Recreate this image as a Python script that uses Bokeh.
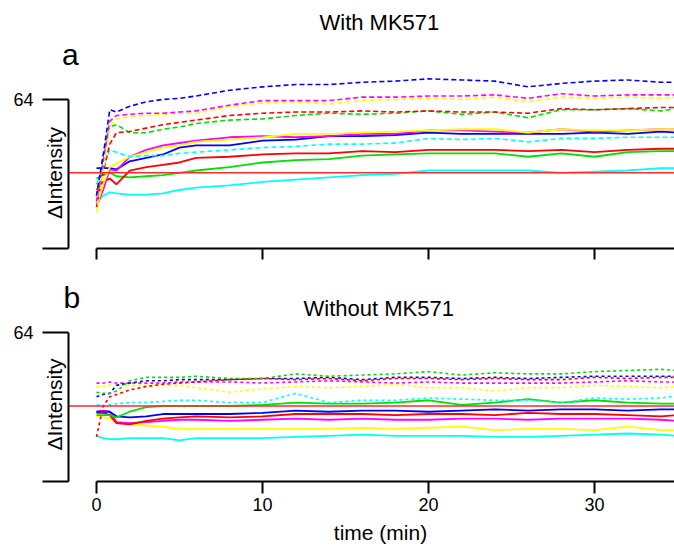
import math
from bokeh.plotting import figure
from bokeh.models import Range1d, FixedTicker, Label, LinearAxis
from bokeh.embed import file_html
from bokeh.resources import INLINE

FONT = "Liberation Sans"

# time (min)
t = [0, 0.4, 0.8, 1.2, 2, 3, 4, 5, 6, 8, 10, 12, 14, 16, 18, 20, 22, 24, 26, 28, 30, 32, 34, 35]

# ---- panel a: With MK571 ----
blue_dash_a    = [-20, 15, 55, 53, 58, 62, 64, 65, 67, 72, 75, 77, 77, 79, 80, 82, 81, 80, 75, 78, 80, 81, 79, 79]
magenta_dash_a = [-25, 10, 45, 50, 51, 52, 52, 53, 54, 59, 63, 63, 63, 66, 66, 67, 67, 68, 65, 69, 67, 68, 68, 68]
yellow_dash_a  = [-35, 0, 40, 47, 49, 50, 51, 52, 52, 58, 61, 62, 60, 63, 64, 65, 64, 66, 62, 66, 65, 66, 65, 66]
red_dash_a     = [-30, 0, 25, 35, 36, 39, 42, 44, 46, 50, 52, 53, 53, 54, 53, 54, 53, 53, 52, 56, 55, 56, 57, 57]
green_dash_a   = [-20, 15, 40, 42, 35, 35, 38, 40, 43, 46, 47, 50, 52, 51, 52, 54, 51, 53, 48, 55, 55, 56, 54, 56]
cyan_dash_a    = [-10, 5, 20, 18, 14, 15, 15, 17, 18, 20, 22, 23, 25, 25, 26, 30, 29, 30, 27, 30, 30, 31, 31, 31]
yellow_a       = [-30, -10, 5, 8, 14, 18, 22, 24, 27, 29, 31, 34, 34, 35, 36, 37, 38, 38, 35, 38, 37, 37, 38, 38]
magenta_a      = [-30, -15, 3, 2, 14, 20, 24, 26, 28, 31, 32, 31, 32, 34, 34, 37, 37, 36, 35, 38, 36, 37, 38, 38]
blue_a         = [4, 4, 4, 3, 10, 13, 16, 22, 24, 24, 28, 29, 32, 32, 33, 35, 34, 34, 34, 34, 35, 34, 36, 35]
red_a          = [-15, -8, -5, -10, 2, 5, 7, 9, 13, 14, 16, 17, 17, 19, 18, 20, 20, 20, 19, 20, 18, 20, 21, 21]
green_a        = [-5, -2, 0, -3, -4, -3, -2, 0, 2, 5, 9, 11, 12, 15, 16, 17, 17, 17, 14, 17, 14, 18, 19, 19]
cyan_a         = [-25, -20, -17, -18, -19, -19, -18, -15, -13, -11, -8, -6, -4, -2, -1, 2, 2, 2, 2, 0, 1, 2, 4, 4]

# ---- panel b: Without MK571 ----
green_dash_b   = [12, 11, 11, 13, 22, 25, 25, 25, 26, 24, 24, 28, 26, 27, 28, 30, 27, 29, 28, 28, 30, 31, 32, 31]
blue_dash_b    = [8, 10, 11, 18, 20, 22, 22, 23, 23, 23, 24, 24, 25, 23, 25, 25, 24, 25, 24, 25, 26, 26, 26, 26]
red_dash_b     = [-27, 0, 8, 10, 14, 17, 19, 20, 21, 23, 24, 23, 24, 22, 24, 24, 23, 24, 23, 23, 25, 24, 25, 25]
magenta_dash_b = [20, 20, 21, 20, 20, 20, 20, 21, 21, 21, 20, 21, 22, 21, 20, 21, 20, 20, 20, 20, 21, 22, 21, 21]
yellow_dash_b  = [17, 17, 18, 18, 18, 18, 18, 18, 16, 12, 15, 17, 16, 17, 19, 16, 16, 13, 16, 16, 18, 17, 16, 17]
cyan_dash_b    = [1, 0, 1, 2, 3, 3, 4, 5, 5, 3, 3, 11, 3, 5, 5, 7, 6, 5, 5, 3, 7, 6, 7, 9]
green_b        = [-8, -8, -8, -10, -5, -1, 0, 0, 0, 0, 1, 3, 2, 2, 3, 5, 1, 3, 6, 3, 5, 3, 2, 2]
blue_b         = [-5, -5, -5, -9, -10, -9, -7, -7, -7, -7, -6, -4, -5, -4, -4, -5, -4, -3, -4, -3, -3, -4, -3, -3]
red_b          = [-6, -6, -8, -15, -16, -13, -11, -10, -9, -10, -9, -7, -7, -7, -8, -7, -7, -8, -6, -7, -7, -8, -9, -8]
magenta_b      = [-5, -4, -5, -14, -15, -14, -13, -12, -12, -13, -12, -11, -12, -11, -12, -12, -11, -11, -12, -11, -11, -11, -12, -13]
yellow_b       = [-9, -10, -11, -14, -16, -17, -18, -20, -20, -20, -20, -20, -20, -19, -20, -19, -18, -21, -20, -20, -21, -18, -21, -21]
cyan_b         = [-26, -28, -29, -29, -28, -28, -28, -30, -28, -28, -28, -27, -26, -25, -26, -26, -26, -27, -27, -26, -25, -24, -25, -26]

x_ticks = [0, 10, 20, 30]
y_top_tick = [64]
y_bottom_tick = [-66]
baseline_level = 0
titles = ["With MK571", "Without MK571"]
panel_letters = ["a", "b"]
y_label = "\u0394Intensity"
x_label = "time (min)"

COL = {"blue": "#0000ff", "magenta": "#ff00ff", "yellow": "#ffff00",
       "red": "#ff0000", "green": "#00e000", "cyan": "#00ffff"}

# ---- geometry (page pixels) ----
W, H = 674, 546
PX_PER_MIN = 16.6
T0_PX = 96
PX_PER_UNIT = 1.146
ZERO_A, ZERO_B = 172.3, 405.5
XS, XE = -T0_PX / PX_PER_MIN, (W - T0_PX) / PX_PER_MIN
YAX_X = (68 - T0_PX) / PX_PER_MIN
BASE_SHIFT = 0.42  # em offset of the rendered baseline


def xd(px):
    return (px - T0_PX) / PX_PER_MIN


p = figure(width=W, height=H, x_range=Range1d(XS, XE), y_range=Range1d(H, 0),
           output_backend="svg", toolbar_location=None, min_border=0,
           x_axis_type=None, y_axis_type=None)
p.outline_line_color = None
p.grid.visible = False
p.extra_y_ranges = {
    "a": Range1d((ZERO_A - H) / PX_PER_UNIT, ZERO_A / PX_PER_UNIT),
    "b": Range1d((ZERO_B - H) / PX_PER_UNIT, ZERO_B / PX_PER_UNIT),
}


def style_axis(ax):
    ax.axis_line_width = 2
    ax.major_tick_line_width = 2
    ax.minor_tick_line_width = 2
    ax.minor_tick_line_color = "black"
    ax.major_tick_in = 0
    ax.minor_tick_in = 0
    ax.major_label_text_font = FONT
    ax.major_label_text_font_size = "18px"
    ax.major_label_text_color = "black"


def panel(name, zero_px, series, dash, show_labels):
    ya = LinearAxis(y_range_name=name, fixed_location=YAX_X,
                    ticker=FixedTicker(ticks=y_top_tick, minor_ticks=y_bottom_tick),
                    bounds=(y_bottom_tick[0], y_top_tick[0]))
    style_axis(ya)
    ya.major_tick_out = 26
    ya.minor_tick_out = 26
    ya.major_label_standoff = 9
    p.add_layout(ya, "left")

    x_loc = zero_px - y_bottom_tick[0] * PX_PER_UNIT
    if show_labels:
        tk = FixedTicker(ticks=x_ticks)
    else:
        tk = FixedTicker(ticks=[], minor_ticks=x_ticks)
    xa = LinearAxis(fixed_location=x_loc, ticker=tk, bounds=(0, XE))
    style_axis(xa)
    xa.major_tick_out = 12
    xa.minor_tick_out = 11
    xa.major_label_standoff = 4
    p.add_layout(xa, "below")

    for col, ys, is_dash in series:
        p.line(t, ys, y_range_name=name, line_color=COL[col],
               line_width=1.6 if is_dash else 1.8,
               line_dash=dash if is_dash else "solid")
    p.line([YAX_X, XE], [baseline_level, baseline_level], y_range_name=name,
           line_color="#ff2a2a", line_width=1.6)


panel("a", ZERO_A, [
    ("cyan", cyan_a, False), ("green", green_a, False), ("red", red_a, False),
    ("blue", blue_a, False), ("magenta", magenta_a, False), ("yellow", yellow_a, False),
    ("cyan", cyan_dash_a, True), ("green", green_dash_a, True), ("red", red_dash_a, True),
    ("yellow", yellow_dash_a, True), ("magenta", magenta_dash_a, True), ("blue", blue_dash_a, True),
], "5 3", False)

panel("b", ZERO_B, [
    ("cyan", cyan_b, False), ("yellow", yellow_b, False), ("magenta", magenta_b, False),
    ("red", red_b, False), ("blue", blue_b, False), ("green", green_b, False),
    ("cyan", cyan_dash_b, True), ("yellow", yellow_dash_b, True), ("magenta", magenta_dash_b, True),
    ("red", red_dash_b, True), ("blue", blue_dash_b, True), ("green", green_dash_b, True),
], "3 3", True)


def label(x_px, y_px, text, size_px, align="left", rotated=False):
    shift = BASE_SHIFT * size_px
    if rotated:
        x_px -= shift
    else:
        y_px -= shift
    p.add_layout(Label(x=xd(x_px), y=y_px, text=text, text_font=FONT,
                       text_font_size=f"{size_px}px", text_align=align,
                       text_baseline="alphabetic", angle=math.pi / 2 if rotated else 0.0,
                       text_color="black"))


# (x, y) = glyph baseline position in page pixels
label(61.5, 67, panel_letters[0], 30)
label(319, 31.5, titles[0], 22)
label(63, 172.5, y_label, 21, "center", True)

label(63, 310, panel_letters[1], 30)
label(303, 317, titles[1], 22)
label(63, 404, y_label, 21, "center", True)

label(380, 541, x_label, 21, "center")

open("out.html", "w").write(file_html(p, INLINE))
